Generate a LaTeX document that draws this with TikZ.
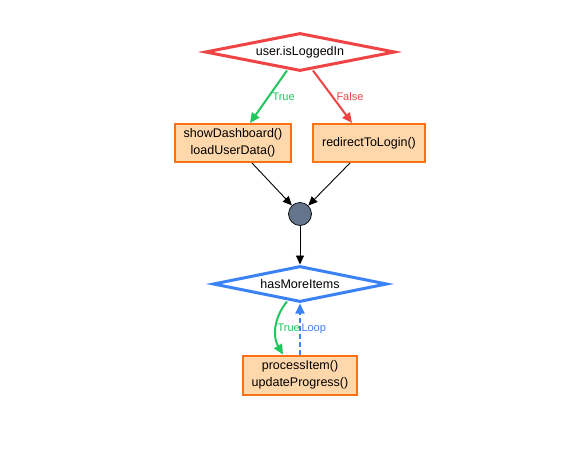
\documentclass[tikz,border=0pt]{standalone}
\usepackage{fontspec}
\setmainfont{Liberation Sans}
\usepackage{tikz}
\usetikzlibrary{
  arrows.meta,
  shapes.geometric
}
\definecolor{condred}{HTML}{EF4444}
\definecolor{loopblue}{HTML}{3B82F6}
\definecolor{truegreen}{HTML}{22C55E}
\definecolor{actline}{HTML}{F97316}
\definecolor{actfill}{HTML}{FED7AA}
\definecolor{mergefill}{HTML}{64748B}
\tikzset{
  decision/.style={
    diamond,
    fill=white,
    line width=3pt,
    aspect=5,
    inner sep=0pt,
    font=\fontsize{12.5}{15}\selectfont,
  },
  actbox/.style={
    draw=actline,
    fill=actfill,
    line width=2pt,
    minimum height=38pt,
    inner xsep=9pt,
    align=center,
    font=\fontsize{12.5}{16.5}\selectfont,
  },
  mergedot/.style={
    circle,
    draw=black,
    line width=0.7pt,
    fill=mergefill,
    minimum size=23pt,
    inner sep=0pt,
  },
  arr/.style={
    -{Triangle[length=10pt,width=9pt]},
    line width=2pt,
  },
  thinarr/.style={
    -{Triangle[length=9pt,width=8pt]},
    line width=0.9pt,
    draw=black,
  },
  lbl/.style={
    font=\fontsize{11}{13}\selectfont,
    inner sep=3pt,
  },
}

\begin{document}
\begin{tikzpicture}[x=1pt, y=-1pt]
  \useasboundingbox (0,0) rectangle (578,450);

  % Row 1 — login check
  \node[decision, draw=condred, minimum width=190pt, minimum height=38pt] (login) at (300,52) {user.isLoggedIn};

  \node[actbox] (dash)  at (233,143) {showDashboard()\\loadUserData()};
  \node[actbox] (redir) at (369,143) {redirectToLogin()};

  \draw[arr, truegreen] ([xshift=-13pt,yshift=2pt]login.south) -- ([xshift=17pt]dash.north)
    node[lbl, midway, right, text=truegreen] {True};
  \draw[arr, condred] ([xshift=13pt,yshift=2pt]login.south) -- ([xshift=-17pt]redir.north)
    node[lbl, midway, right, text=condred] {False};

  % Row 2 — merge
  \node[mergedot] (merge) at (300,214) {};

  \draw[thinarr] ([xshift=19pt]dash.south) -- (merge);
  \draw[thinarr] ([xshift=-19pt]redir.south) -- (merge);

  % Row 3 — loop over items
  \node[decision, draw=loopblue, minimum width=174pt, minimum height=36pt] (more) at (300,284) {hasMoreItems};
  \node[actbox, minimum height=39pt] (proc) at (300,375) {processItem()\\updateProgress()};

  \draw[thinarr] (merge) -- (more.north);
  \draw[arr, truegreen] ([xshift=-13pt,yshift=2pt]more.south) to[bend right=35]
    node[lbl, midway, right, inner sep=0.5pt, text=truegreen] {True} ([xshift=-17pt]proc.north);
  \draw[arr, loopblue, dash pattern=on 5pt off 3pt] (proc.north) -- (more.south)
    node[lbl, midway, right, inner sep=0.5pt, text=loopblue] {Loop};
\end{tikzpicture}
\end{document}
